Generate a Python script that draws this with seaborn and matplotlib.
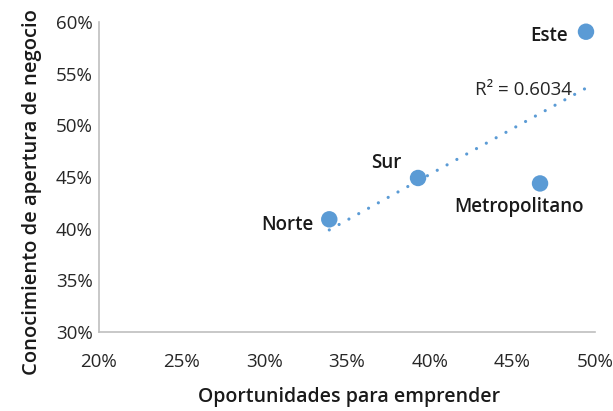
import numpy as np
import pandas as pd
import seaborn as sns
import matplotlib
matplotlib.use("Agg")
import matplotlib.pyplot as plt
from matplotlib.ticker import PercentFormatter

regions = ["Norte", "Sur", "Metropolitano", "Este"]
oportunidades = [33.93, 39.30, 46.68, 49.46]
conocimiento = [40.91, 44.91, 44.383, 59.07]
xticks = [20, 25, 30, 35, 40, 45, 50]
yticks = [30, 35, 40, 45, 50, 55, 60]

df = pd.DataFrame({"region": regions, "x": oportunidades, "y": conocimiento})

sns.set_theme(style="white")
plt.rcParams["font.family"] = ["Open Sans", "DejaVu Sans"]

blue = "#5B9BD5"
fig = plt.figure(figsize=(6.13, 4.11), dpi=100)
ax = fig.add_axes([0.1615, 0.1922, 0.809, 0.754])

sns.regplot(data=df, x="x", y="y", ax=ax, scatter=False, ci=None, truncate=True,
            line_kws=dict(color=blue, linewidth=2.3, linestyle=(0, (0.01, 3.5)),
                          dash_capstyle="round"))
sns.scatterplot(data=df, x="x", y="y", ax=ax, s=140, color=blue, edgecolor="none", zorder=3)

offsets = {"Norte": (-11, -4, "right", "center"),
           "Sur": (-12, 11, "right", "center"),
           "Metropolitano": (-15, -17, "center", "center"),
           "Este": (-13, -3, "right", "center")}
for r, xv, yv in zip(regions, oportunidades, conocimiento):
    dx, dy, ha, va = offsets[r]
    ax.annotate(r, (xv, yv), xytext=(dx, dy), textcoords="offset points",
                ha=ha, va=va, fontsize=13.5, fontweight="semibold", color="#1a1a1a")

r2 = np.corrcoef(oportunidades, conocimiento)[0, 1] ** 2
ax.text(48.61, 53.43, f"R² = {r2:.4f}", ha="right", va="center", fontsize=13.5, color="#262626")

ax.set_xlim(20, 50)
ax.set_ylim(30, 60)
ax.set_xticks(xticks)
ax.set_yticks(yticks)
ax.xaxis.set_major_formatter(PercentFormatter(decimals=0))
ax.yaxis.set_major_formatter(PercentFormatter(decimals=0))
ax.tick_params(axis="both", length=0, labelsize=13.5, colors="#262626")
ax.tick_params(axis="x", pad=15)
ax.tick_params(axis="y", pad=4.5)
for s in ["top", "right"]:
    ax.spines[s].set_visible(False)
for s in ["left", "bottom"]:
    ax.spines[s].set_color("#BFBFBF")
    ax.spines[s].set_linewidth(1.2)

ax.set_xlabel("Oportunidades para emprender", fontsize=14, fontweight="semibold", color="#1a1a1a")
ax.set_ylabel("Conocimiento de apertura de negocio", fontsize=14.5, fontweight="semibold", color="#1a1a1a")
ax.xaxis.set_label_coords(0.505, -0.177)
ax.yaxis.set_label_coords(-0.115, 0.45)

fig.savefig("out.png", dpi=100)
